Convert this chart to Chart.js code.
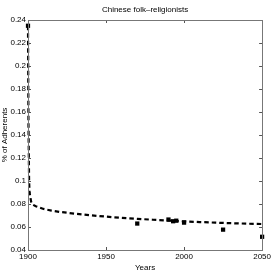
<!DOCTYPE html>
<html>
<head>
<meta charset="utf-8">
<script src="https://cdn.jsdelivr.net/npm/chart.js@4/dist/chart.umd.min.js"></script>
<style>
  html, body { margin: 0; padding: 0; background: #fff; }
  #wrap { width: 273px; height: 273px; }
</style>
</head>
<body>
<div id="wrap"><canvas id="grafico"></canvas></div>
<script>
// Datos observados
var anios = [1900, 1970, 1990, 1993, 1995, 2000, 2025, 2050];
var adherentes = [0.235, 0.063, 0.0665, 0.065, 0.0655, 0.0638, 0.0577, 0.0515];

// Curva ajustada
var aniosAjuste = [1900, 1900.3, 1900.7, 1901, 1902, 1903, 1905, 1910, 1915, 1920, 1925, 1930, 1940, 1950, 1960, 1970, 1980, 1990, 2000, 2010, 2020, 2030, 2040, 2050];
var valoresAjuste = [0.235, 0.15, 0.1, 0.09, 0.082, 0.0795, 0.078, 0.0757, 0.0743, 0.0732, 0.0724, 0.0716, 0.0702, 0.069, 0.0679, 0.0671, 0.0663, 0.0656, 0.0649, 0.0643, 0.0638, 0.0633, 0.0629, 0.0626];

var ticksX = [1900, 1950, 2000, 2050];
var ticksY = [0.04, 0.06, 0.08, 0.1, 0.12, 0.14, 0.16, 0.18, 0.2, 0.22, 0.24];
var titulo = 'Chinese folk\u2013religionists';

var fuente = "'Liberation Sans', Arial, sans-serif";

// marcas de los ejes hacia adentro, caja y título centrado sobre el área
var marcasInternas = {
    id: 'marcasInternas',
    afterDraw: function(chart) {
        var ctx = chart.ctx;
        var a = chart.chartArea;
        var x = chart.scales.x, y = chart.scales.y;
        ctx.save();
        ctx.strokeStyle = '#555';
        ctx.lineWidth = 1;
        ctx.beginPath();
        ticksX.forEach(function(v) {
            var px = Math.round(x.getPixelForValue(v)) + 0.5;
            ctx.moveTo(px, a.bottom); ctx.lineTo(px, a.bottom - 3);
            ctx.moveTo(px, a.top); ctx.lineTo(px, a.top + 3);
        });
        ticksY.forEach(function(v) {
            var py = Math.round(y.getPixelForValue(v)) + 0.5;
            ctx.moveTo(a.left, py); ctx.lineTo(a.left + 3, py);
            ctx.moveTo(a.right, py); ctx.lineTo(a.right - 3, py);
        });
        ctx.stroke();
        ctx.strokeStyle = '#777';
        ctx.strokeRect(Math.round(a.left) + 0.5, Math.round(a.top) + 0.5, Math.round(a.right - a.left), Math.round(a.bottom - a.top));
        ctx.fillStyle = '#000';
        ctx.font = '8px ' + fuente;
        ctx.textAlign = 'center';
        ctx.textBaseline = 'middle';
        ctx.fillText(titulo, (a.left + a.right) / 2, 10);
        ctx.restore();
    }
};

document.addEventListener("DOMContentLoaded", function() {
    var ctx = document.getElementById('grafico').getContext('2d');
    var chart = new Chart(ctx, {
        type: 'scatter',
        data: {
            datasets: [{
                label: 'Ajuste',
                data: aniosAjuste.map(function(a, i) { return {x: a, y: valoresAjuste[i]}; }),
                showLine: true,
                borderColor: '#000',
                borderWidth: 2.2,
                borderDash: [4.5, 3],
                pointRadius: 0,
                tension: 0
            }, {
                label: 'Datos',
                data: anios.map(function(a, i) { return {x: a, y: adherentes[i]}; }),
                pointStyle: 'rect',
                pointRadius: 3,
                backgroundColor: '#000',
                borderColor: '#000',
                borderWidth: 0
            }]
        },
        options: {
            responsive: true,
            maintainAspectRatio: false,
            animation: false,
            clip: false,
            layout: { padding: { top: 20, right: 10, left: 0, bottom: 0 } },
            plugins: {
                legend: { display: false },
                tooltip: { enabled: false },
                title: { display: false }
            },
            scales: {
                x: {
                    type: 'linear',
                    min: 1900, max: 2050,
                    afterBuildTicks: function(s) { s.ticks = ticksX.map(function(v) { return {value: v}; }); },
                    afterFit: function(s) { s.height = 23; },
                    grid: { display: false, drawTicks: false },
                    border: { display: false },
                    ticks: {
                        color: '#000', padding: 2, maxRotation: 0, font: { family: fuente, size: 8 },
                        callback: function(v) { return String(v); }
                    },
                    title: { display: true, text: 'Years', color: '#000', padding: { top: 1, bottom: 0 }, font: { family: fuente, size: 8 } }
                },
                y: {
                    min: 0.04, max: 0.24,
                    afterBuildTicks: function(s) { s.ticks = ticksY.map(function(v) { return {value: v}; }); },
                    afterFit: function(s) { s.width = 28; },
                    grid: { display: false, drawTicks: false },
                    border: { display: false },
                    ticks: {
                        color: '#000', padding: 2, font: { family: fuente, size: 8 },
                        callback: function(v) { return String(Math.round(v * 100) / 100); }
                    },
                    title: { display: true, text: '% of Adherents', color: '#000', padding: { top: 0, bottom: 0 }, font: { family: fuente, size: 8 } }
                }
            }
        },
        plugins: [marcasInternas]
    });
});
</script>
</body>
</html>
